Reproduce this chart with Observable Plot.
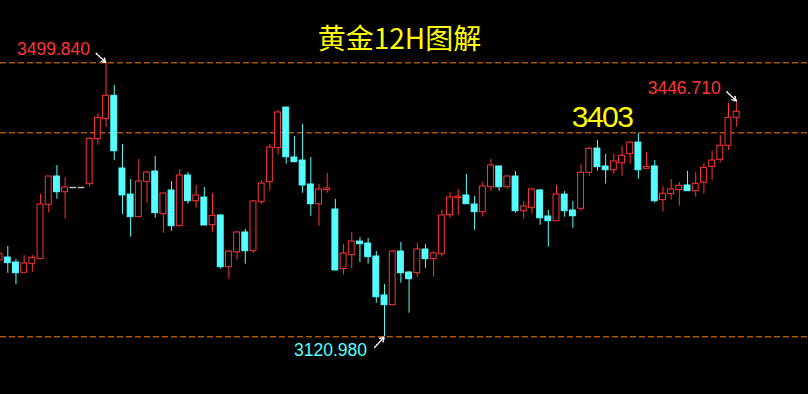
<!DOCTYPE html>
<html><head><meta charset="utf-8">
<script src="https://cdn.jsdelivr.net/npm/d3@7"></script>
<script src="https://cdn.jsdelivr.net/npm/@observablehq/plot@0.6"></script>
<style>html,body{margin:0;padding:0;background:#000;overflow:hidden}#chart{width:808px;height:394px}</style>
</head><body><div id="chart"></div>
<script>
const title = "黄金12H图解";
const keyLevel = 3403;
// OHLC per 12H candle
const open = [
3226.5,3230.6,3223.7,3209.5,3221.9,3228.3,3303.5,3342.6,3320.9,3327.4,
3327.4,3332.0,3394.2,3421.9,3454.2,3353.7,3317.7,3286.4,3335.3,3349.5,
3290.5,3323.3,3273.9,3344.0,3308.5,3313.6,3275.3,3288.7,3217.2,3237.9,
3265.2,3239.3,3307.1,3334.7,3381.8,3438.0,3368.9,3364.7,3331.6,3304.3,
3323.7,3297.0,3214.5,3233.8,3252.7,3249.9,3232.0,3178.1,3164.7,3238.9,
3209.9,3208.9,3241.7,3228.3,3235.2,3289.1,3312.6,3316.4,3303.9,3293.3,
3327.8,3356.5,3327.8,3342.6,3294.6,3298.8,3323.3,3287.3,3280.8,3317.7,
3295.6,3298.0,3347.8,3381.3,3356.5,3351.3,3361.0,3373.5,3389.6,3353.3,
3356.5,3309.9,3318.2,3323.7,3330.2,3322.3,3333.9,3356.0,3365.7,3385.1,
3423.8];
const high = [
3243.1,3245.9,3227.9,3233.4,3233.4,3317.7,3342.6,3357.8,3341.2,3327.4,
3327.4,3396.6,3429.7,3499.84,3468.5,3386.9,3338.5,3366.1,3349.5,3370.3,
3319.1,3335.7,3352.3,3348.2,3330.2,3327.4,3319.1,3290.1,3240.3,3266.6,
3269.3,3309.4,3337.1,3386.9,3433.9,3438.0,3397.9,3414.5,3368.9,3331.6,
3346.8,3310.8,3248.6,3265.2,3258.3,3256.9,3238.9,3193.3,3240.3,3251.4,
3211.3,3250.0,3248.6,3238.9,3295.6,3320.5,3324.7,3345.4,3314.9,3334.3,
3366.1,3356.5,3344.0,3349.5,3308.1,3326.0,3324.7,3296.0,3330.2,3321.9,
3308.1,3359.2,3383.1,3392.4,3373.0,3373.0,3384.1,3391.0,3402.5,3375.8,
3364.7,3328.8,3338.5,3334.3,3349.9,3348.2,3360.6,3377.2,3399.3,3444.0,
3446.71];
const low = [
3223.7,3208.9,3192.9,3209.5,3210.3,3228.3,3292.0,3311.2,3283.6,3327.4,
3327.4,3327.8,3385.9,3410.4,3364.7,3290.1,3258.7,3286.4,3305.7,3284.9,
3264.2,3267.0,3273.9,3304.3,3298.8,3274.9,3265.6,3214.5,3200.6,3226.9,
3221.4,3236.6,3303.9,3322.3,3372.1,3359.6,3362.4,3319.5,3287.7,3273.9,
3319.5,3212.7,3206.1,3214.5,3223.7,3221.4,3167.4,3120.98,3164.7,3195.1,
3153.6,3203.4,3215.8,3203.4,3231.1,3284.9,3289.1,3304.3,3268.1,3286.4,
3322.3,3322.3,3325.1,3292.0,3283.6,3290.5,3275.3,3244.9,3280.8,3286.4,
3271.1,3294.6,3343.0,3349.9,3332.0,3345.8,3343.0,3359.6,3338.9,3351.9,
3305.7,3293.3,3309.9,3301.6,3322.3,3314.0,3318.2,3337.5,3361.6,3378.6,
3410.8];
const close = [
3235.8,3222.8,3208.9,3222.4,3230.2,3303.9,3342.6,3320.9,3327.4,3327.4,
3327.4,3394.8,3423.8,3454.2,3377.6,3316.4,3286.4,3335.7,3348.2,3292.0,
3319.1,3273.9,3344.0,3308.5,3316.4,3274.9,3288.3,3217.2,3238.9,3265.2,
3239.3,3308.1,3332.9,3382.7,3431.1,3369.3,3362.4,3330.2,3304.3,3324.7,
3326.0,3212.7,3236.2,3252.7,3249.0,3231.1,3175.7,3164.7,3238.9,3208.9,
3200.6,3241.7,3228.3,3236.2,3288.7,3313.6,3314.9,3304.3,3293.3,3328.8,
3357.8,3327.8,3342.6,3294.6,3301.2,3324.7,3284.9,3280.8,3317.7,3294.6,
3287.7,3347.8,3380.9,3355.5,3351.3,3363.4,3371.3,3389.6,3351.3,3356.0,
3308.5,3318.7,3324.7,3329.8,3322.3,3332.5,3354.6,3364.7,3385.1,3423.8,
3432.1];

const RED = "#ff3535", CYAN = "#55ffff", GRAY = "#c0c0c0", ORANGE = "#ff7f00", YELLOW = "#ffff00";
const n = open.length;
const candles = d3.range(n).map(i => ({
  i, o: open[i], h: high[i], l: low[i], c: close[i],
  t: close[i] > open[i] ? "up" : close[i] < open[i] ? "down" : "flat"
}));
const col = {up: RED, down: CYAN, flat: GRAY};
const bodies = candles.filter(d => d.t !== "flat");
const flats = candles.filter(d => d.t === "flat");
const hiIdx = d3.maxIndex(high), loIdx = d3.minIndex(low), lastIdx = n - 1;
const highMarks = [{i: hiIdx, v: high[hiIdx]}, {i: lastIdx, v: high[lastIdx]}];
const lowMarks = [{i: loIdx, v: low[loIdx]}];
const levels = [high[hiIdx], keyLevel, low[loIdx]];
const numFont = "Liberation Sans, Arial, sans-serif";

const chart = Plot.plot({
  width: 808, height: 394, margin: 0,
  style: {background: "#000", overflow: "visible"},
  x: {domain: [0.11, 98.77], axis: null},
  y: {domain: [3041.2, 3585.98], axis: null},
  marks: [
    Plot.ruleY(levels, {y: d => d, stroke: ORANGE, strokeDasharray: "6,3", strokeWidth: 1}),
    Plot.ruleX(bodies, {x: "i", y1: "l", y2: "h", stroke: d => col[d.t], strokeWidth: 1}),
    Plot.rect(bodies, {x1: d => d.i - 0.36, x2: d => d.i + 0.36, y1: "o", y2: "c",
      fill: d => d.t === "down" ? CYAN : "#000", stroke: d => col[d.t], strokeWidth: 1}),
    Plot.ruleY(flats, {y: "c", x1: d => d.i - 0.4, x2: d => d.i + 0.4, stroke: GRAY, strokeWidth: 1.5}),
    Plot.arrow(highMarks, {x1: d => d.i - 1.2, y1: d => d.v + 13, x2: "i", y2: "v",
      stroke: "#fff", strokeDasharray: "1.5,1.5", headLength: 6, bend: 0, insetEnd: 0.5}),
    Plot.arrow(lowMarks, {x1: d => d.i - 1.2, y1: d => d.v - 14.5, x2: "i", y2: "v",
      stroke: "#fff", strokeDasharray: "1.5,1.5", headLength: 6, bend: 0, insetEnd: 0.5}),
    Plot.text(highMarks, {x: "i", y: "v", text: d => d.v.toFixed(3), dx: -16, dy: -13,
      textAnchor: "end", fill: RED, fontSize: 17.5, fontFamily: numFont}),
    Plot.text(lowMarks, {x: "i", y: "v", text: d => d.v.toFixed(3), dx: -17.5, dy: 14,
      textAnchor: "end", fill: CYAN, fontSize: 17.5, fontFamily: numFont}),
    Plot.text([keyLevel], {y: d => d, text: d => String(d), frameAnchor: "right", dx: -176, dy: -15,
      textAnchor: "end", fill: YELLOW, fontSize: 30, fontFamily: numFont, className: "keylvl"}),
    Plot.text([title], {text: d => d, frameAnchor: "top", dx: -5, dy: 29,
      fill: YELLOW, fontSize: 28, fontFamily: "Noto Sans CJK SC, sans-serif"})
  ]
});
document.getElementById("chart").appendChild(chart);
d3.select(chart).selectAll(".keylvl text").style("letter-spacing", "-1.5px");
</script>
</body></html>
